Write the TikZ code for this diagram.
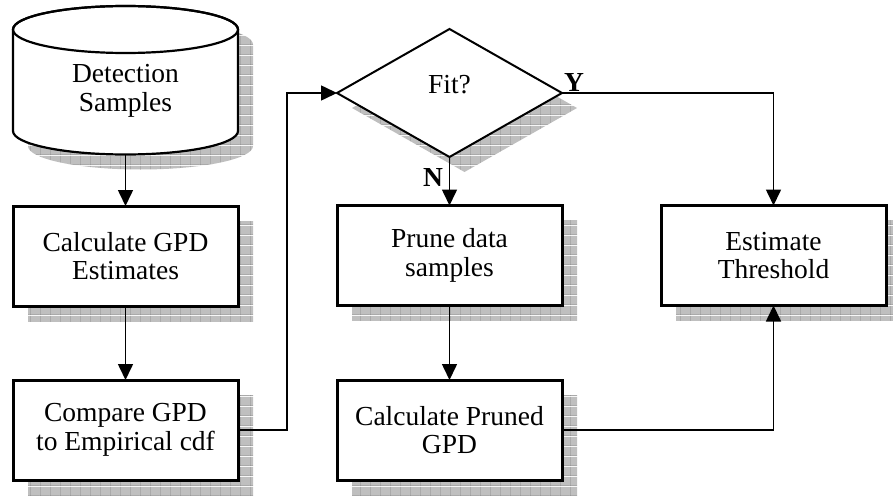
\documentclass[tikz,border=0pt]{standalone}
\usepackage{fontspec}
\setmainfont{Liberation Serif}
\usetikzlibrary{arrows.meta,shapes.geometric,shadows,patterns.meta}
\tikzdeclarepattern{
  name=sgrid,
  type=colored,
  bounding box={(0pt,0pt) and (10pt,10pt)},
  tile size={(10pt,10pt)},
  code={
    \fill[black!25] (0pt,0pt) rectangle (10pt,10pt);
    \draw[black!48, line width=0.8pt] (0pt,0pt) -- (10pt,0pt) (0pt,0pt) -- (0pt,10pt);
  }
}
\begin{document}
\begin{tikzpicture}[x=1pt,y=-1pt,
  font=\fontsize{27.5}{28.5}\selectfont,
  shd/.style={drop shadow={shadow xshift=15pt, shadow yshift=-15pt, opacity=1, pattern={sgrid}}},
  box/.style={draw, line width=3pt, fill=white, minimum width=225pt, minimum height=100pt,
    align=center, inner sep=0pt, outer sep=0pt, shd},
  conn/.style={line width=1.6pt},
  arr/.style={conn, -{Triangle[length=16pt,width=15pt]}},
  lbl/.style={font=\fontsize{27.5}{28.5}\selectfont\bfseries}]
\useasboundingbox (0,0) rectangle (893,495);
% cylinder shadow
\fill[pattern={sgrid}] (28,146) -- (28,44.5) arc[start angle=180, end angle=360, x radius=112.5, y radius=23.5]
  -- (253,146) arc[start angle=0, end angle=180, x radius=112.5, y radius=23.5] -- cycle;
% cylinder
\filldraw[fill=white, line width=2.2pt] (13,131) -- (13,29.5) arc[start angle=180, end angle=360, x radius=112.5, y radius=23.5]
  -- (238,131) arc[start angle=0, end angle=180, x radius=112.5, y radius=23.5] -- cycle;
\draw[line width=2.2pt] (125.5,29.5) ellipse [x radius=112.5, y radius=23.5];
\node[align=center] (ds) at (125.5,91) {Detection\\Samples};
\coordinate (dsbot) at (125.5,154.5);
% boxes
\node[box] (calc) at (125.5,256) {Calculate GPD\\Estimates};
\node[box] (cmp) at (125.5,430) {Compare GPD\\to Empirical cdf};
\node[box] (prune) at (449.5,255.5) {Prune data\\samples};
\node[box] (cpr) at (449.5,430) {Calculate Pruned\\GPD};
\node[box] (est) at (773.5,255.5) {Estimate\\Threshold};
% decision
\node[draw, diamond, line width=2pt, fill=white, minimum width=225pt, minimum height=128pt,
  inner sep=0pt, outer sep=0pt, shd] (fit) at (449.5,93) {};
\node[anchor=base] (fitt) at (449.5,93) {Fit?};
\node[lbl, anchor=base] (ylab) at (574,91) {Y};
\node[lbl, anchor=base] (nlab) at (433,186) {N};
% connectors
\draw[arr] (dsbot) -- (calc.north);
\draw[arr] (calc.south) -- (cmp.north);
\draw[arr] (cmp.east) -- ++(49,0) |- (fit.west);
\draw[arr] (fit.south) -- (prune.north);
\draw[arr] (prune.south) -- (cpr.north);
\draw[arr] (fit.east) -| (est.north);
\draw[arr] (cpr.east) -| (est.south);
\end{tikzpicture}
\end{document}
